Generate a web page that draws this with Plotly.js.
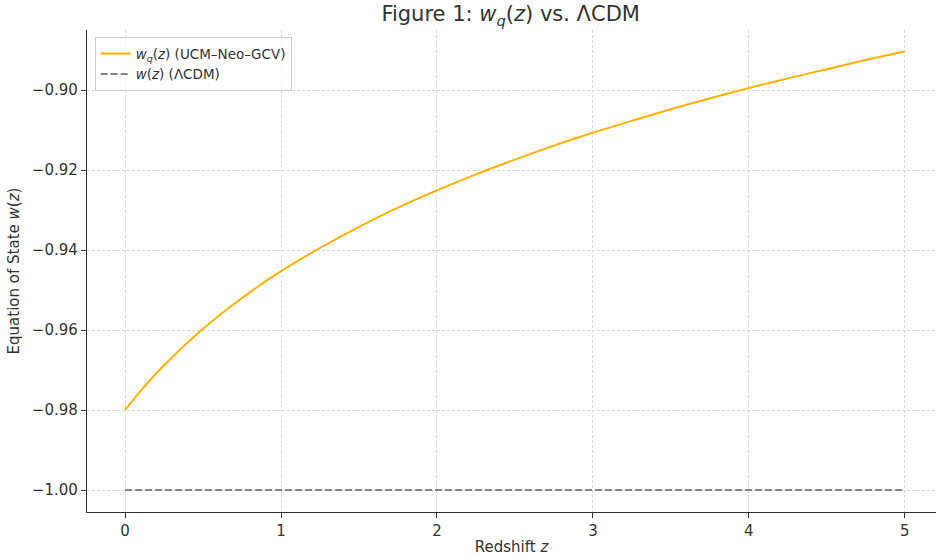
<!DOCTYPE html>
<html>
<head>
<meta charset="utf-8">
<script src="https://cdn.plot.ly/plotly-3.0.1.min.js"></script>
<style>html,body{margin:0;padding:0;background:#fff;}#chart{width:937px;height:556px;}</style>
</head>
<body>
<div id="chart"></div>
<script>
const redshift = [0, 0.1, 0.25, 0.5, 0.75, 1, 1.25, 1.5, 1.75, 2, 2.25, 2.5, 2.75, 3, 3.25, 3.5, 3.75, 4, 4.25, 4.5, 4.75, 5];
const wq = [-0.9800, -0.9752, -0.9688, -0.9597, -0.9520, -0.9453, -0.9395, -0.9342, -0.9294, -0.9251, -0.9211, -0.9174, -0.9139, -0.9107, -0.9077, -0.9048, -0.9021, -0.8995, -0.8971, -0.8948, -0.8925, -0.8904];
const lcdmZ = [0, 5];
const lcdmW = [-1.0, -1.0];
const xTicks = [0, 1, 2, 3, 4, 5];
const yTicks = [-1.00, -0.98, -0.96, -0.94, -0.92, -0.90];
const yTickText = ['−1.00', '−0.98', '−0.96', '−0.94', '−0.92', '−0.90'];

const font = 'DejaVu Sans, sans-serif';
const traces = [
  {x: redshift, y: wq, mode: 'lines', line: {color: '#FFB000', width: 2, shape: 'spline'},
   name: '<i>w</i><sub><i>q</i></sub>(<i>z</i>) (UCM–Neo–GCV)'},
  {x: lcdmZ, y: lcdmW, mode: 'lines', line: {color: '#858585', width: 2, dash: '7px,3px'},
   name: '<i>w</i>(<i>z</i>) (ΛCDM)'}
];
const layout = {
  width: 937, height: 556,
  margin: {l: 87, r: 1, t: 30, b: 44},
  paper_bgcolor: '#fff', plot_bgcolor: '#fff',
  font: {family: font, color: '#333', size: 14},
  title: {text: 'Figure 1: <i>w</i><sub><i>q</i></sub>(<i>z</i>) vs. ΛCDM', x: 0.545, xanchor: 'center', y: 0.975, yanchor: 'middle', font: {size: 21, color: '#333'}},
  showlegend: true,
  legend: {x: 0.009, y: 0.985, xanchor: 'left', yanchor: 'top', bgcolor: 'rgba(255,255,255,0.8)', bordercolor: '#ccc', borderwidth: 1, font: {size: 13.5, color: '#333'}, tracegroupgap: 0},
  xaxis: {
    range: [-0.244, 5.2], tickvals: xTicks, ticks: 'outside', ticklen: 5, tickcolor: '#333',
    showline: true, linecolor: '#333', linewidth: 1.2, mirror: false,
    showgrid: true, gridcolor: '#d9d9d9', griddash: '3px,2px', gridwidth: 1, zeroline: false,
    tickfont: {size: 15, color: '#333'},
    title: {text: 'Redshift <i>z</i>', font: {size: 15, color: '#333'}, standoff: 6}
  },
  yaxis: {
    range: [-1.0055, -0.885], tickvals: yTicks, ticktext: yTickText, ticks: 'outside', ticklen: 5, tickcolor: '#333',
    showline: true, linecolor: '#333', linewidth: 1.2, mirror: false,
    showgrid: true, gridcolor: '#d9d9d9', griddash: '3px,2px', gridwidth: 1, zeroline: false,
    tickfont: {size: 15, color: '#333'},
    title: {text: 'Equation of State <i>w</i>(<i>z</i>)', font: {size: 15, color: '#333'}, standoff: 8}
  }
};
Plotly.newPlot('chart', traces, layout, {displayModeBar: false, staticPlot: true});
</script>
</body>
</html>
